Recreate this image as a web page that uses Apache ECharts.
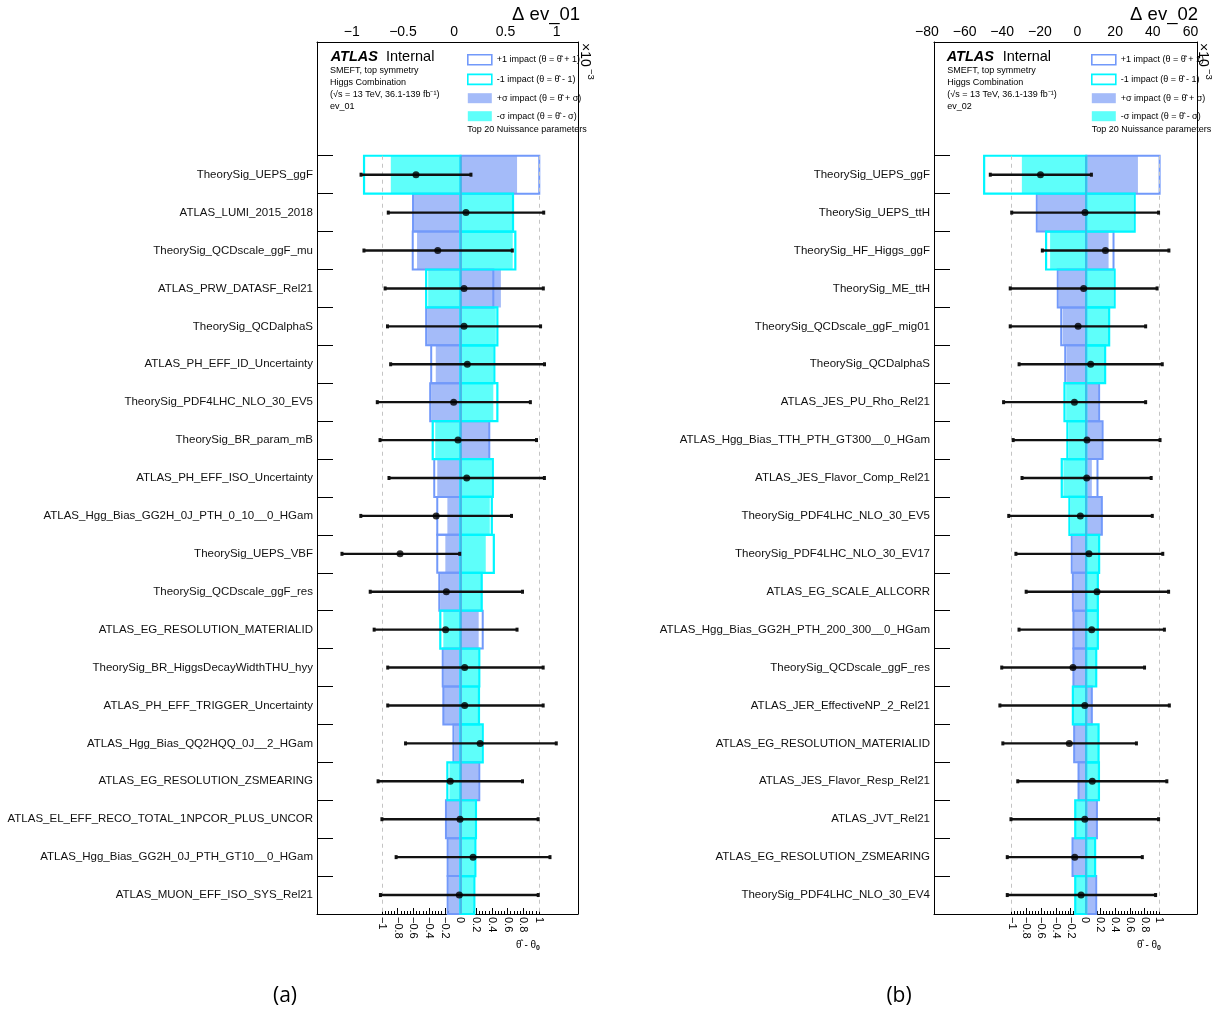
<!DOCTYPE html>
<html><head><meta charset="utf-8">
<script src="https://cdn.jsdelivr.net/npm/echarts@6/dist/echarts.min.js"></script>
<style>html,body{margin:0;padding:0;background:#fff}#c{width:1216px;height:1012px}</style>
</head><body><div id="c"></div><script>
// ---------------- DATA ----------------
const namesA = ['TheorySig_UEPS_ggF','ATLAS_LUMI_2015_2018','TheorySig_QCDscale_ggF_mu','ATLAS_PRW_DATASF_Rel21','TheorySig_QCDalphaS','ATLAS_PH_EFF_ID_Uncertainty','TheorySig_PDF4LHC_NLO_30_EV5','TheorySig_BR_param_mB','ATLAS_PH_EFF_ISO_Uncertainty','ATLAS_Hgg_Bias_GG2H_0J_PTH_0_10__0_HGam','TheorySig_UEPS_VBF','TheorySig_QCDscale_ggF_res','ATLAS_EG_RESOLUTION_MATERIALID','TheorySig_BR_HiggsDecayWidthTHU_hyy','ATLAS_PH_EFF_TRIGGER_Uncertainty','ATLAS_Hgg_Bias_QQ2HQQ_0J__2_HGam','ATLAS_EG_RESOLUTION_ZSMEARING','ATLAS_EL_EFF_RECO_TOTAL_1NPCOR_PLUS_UNCOR','ATLAS_Hgg_Bias_GG2H_0J_PTH_GT10__0_HGam','ATLAS_MUON_EFF_ISO_SYS_Rel21'];
// impacts on Δ ev_01, in units of 1e-3
const plus1A    = [0.78,-0.47,-0.473,0.325,-0.34,-0.29,-0.30,0.285,-0.26,-0.23,-0.23,-0.21,0.22,-0.176,-0.17,-0.07,0.186,-0.144,-0.127,-0.127];
const minus1A   = [-0.955,0.52,0.543,-0.34,0.365,0.335,0.365,-0.275,0.32,0.31,0.33,0.21,-0.20,0.186,0.183,0.22,-0.13,0.153,0.147,0.137];
const plusSigA  = [0.56,-0.46,-0.43,0.40,-0.33,-0.245,-0.29,0.29,-0.23,-0.13,-0.15,-0.20,0.18,-0.17,-0.165,-0.06,0.18,-0.14,-0.12,-0.12];
const minusSigA = [-0.69,0.51,0.517,-0.32,0.35,0.325,0.325,-0.25,0.31,0.29,0.25,0.205,-0.17,0.18,0.178,0.21,-0.11,0.143,0.14,0.13];
// pulls (theta_hat - theta_0) and their errors
const pullA  = [-0.567,0.07,-0.29,0.045,0.045,0.087,-0.087,-0.032,0.079,-0.31,-0.77,-0.18,-0.19,0.053,0.053,0.25,-0.13,-0.006,0.16,-0.015];
const errDnA = [0.70,0.99,0.94,1.005,0.975,0.977,0.973,0.993,0.99,0.96,0.74,0.97,0.91,0.98,0.98,0.95,0.92,0.995,0.98,1.005];
const errUpA = [0.70,0.99,0.95,1.01,0.975,0.983,0.977,1.0,0.99,0.96,0.76,0.97,0.91,1.0,1.0,0.97,0.92,0.995,0.98,1.005];

const namesB = ['TheorySig_UEPS_ggF','TheorySig_UEPS_ttH','TheorySig_HF_Higgs_ggF','TheorySig_ME_ttH','TheorySig_QCDscale_ggF_mig01','TheorySig_QCDalphaS','ATLAS_JES_PU_Rho_Rel21','ATLAS_Hgg_Bias_TTH_PTH_GT300__0_HGam','ATLAS_JES_Flavor_Comp_Rel21','TheorySig_PDF4LHC_NLO_30_EV5','TheorySig_PDF4LHC_NLO_30_EV17','ATLAS_EG_SCALE_ALLCORR','ATLAS_Hgg_Bias_GG2H_PTH_200_300__0_HGam','TheorySig_QCDscale_ggF_res','ATLAS_JER_EffectiveNP_2_Rel21','ATLAS_EG_RESOLUTION_MATERIALID','ATLAS_JES_Flavor_Resp_Rel21','ATLAS_JVT_Rel21','ATLAS_EG_RESOLUTION_ZSMEARING','TheorySig_PDF4LHC_NLO_30_EV4'];
// impacts on Δ ev_02, in units of 1e-3
const plus1B    = [40.3,-27.1,15.0,-15.6,-13.7,-11.5,7.1,9.0,6.2,8.6,-7.9,-7.3,-7.0,-7.0,3.1,-6.6,-4.2,5.9,-7.5,5.5];
const minus1B   = [-56.0,26.6,-22.0,15.6,12.6,10.4,-11.9,-10.3,-13.4,-9.2,7.1,6.4,6.4,5.5,-7.3,6.8,7.0,-6.0,4.9,-6.0];
const plusSigB  = [28.4,-26.5,12.3,-15.0,-12.9,-10.8,6.8,8.6,3.1,8.2,-7.3,-7.0,-6.7,-6.7,2.9,-6.3,-4.0,5.6,-7.2,5.2];
const minusSigB = [-35.3,26.0,-19.8,15.0,12.2,9.9,-11.0,-9.5,-12.5,-8.5,6.8,6.1,6.1,5.2,-6.8,6.5,6.7,-5.6,4.6,-5.6];
const pullB  = [-0.61,-0.007,0.27,-0.025,-0.10,0.07,-0.15,0.02,0.016,-0.07,0.047,0.156,0.084,-0.17,-0.01,-0.22,0.092,-0.01,-0.146,-0.06];
const errDnB = [0.68,0.993,0.855,0.995,0.92,0.97,0.96,1.0,0.876,0.97,0.99,0.96,0.985,0.965,1.15,0.90,1.01,1.0,0.914,1.0];
const errUpB = [0.69,0.997,0.86,0.995,0.915,0.97,0.965,0.99,0.874,0.975,1.0,0.97,0.985,0.97,1.146,0.91,1.01,1.0,0.916,1.01];

// tick labels
const pullTicks = [-1,-0.8,-0.6,-0.4,-0.2,0,0.2,0.4,0.6,0.8,1];
const topTicksA = [-1,-0.5,0,0.5,1];
const topTicksB = [-80,-60,-40,-20,0,20,40,60];

// ---------------- STYLE / LAYOUT ----------------
const FONT = '"Liberation Sans", Arial, Helvetica, sans-serif';
const HEAD = 3;           // empty header rows inside the frame
const NROW = 20;
const L_P1 = '+1 impact (θ = θ̂ + 1)';
const L_M1 = '-1 impact (θ = θ̂ - 1)';
const L_PS = '+σ impact (θ = θ̂ + σ)';
const L_MS = '-σ impact (θ = θ̂ - σ)';
const C_BL = '#7299fa', C_BF = '#a4bbf9', C_CL = '#00f6ff', C_CF = '#5efffa';

const rowBounds = []; for (let k = HEAD; k < HEAD + NROW; k++) rowBounds.push(k);
const rowCenters = []; for (let k = 0; k < NROW; k++) rowCenters.push(HEAD + k + 0.5);
const minorTicks = []; for (let k = -25; k <= 25; k++) minorTicks.push(Math.round(k * 4) / 100);
const fmtNum = v => (v < 0 ? '\u2212' : '') + Math.abs(+v.toFixed(4));

const panels = [
  { names: namesA, p1: plus1A, m1: minus1A, ps: plusSigA, ms: minusSigA, pull: pullA, dn: errDnA, up: errUpA,
    grid: {left: 317, top: 42, width: 261, height: 872},
    pullRange: [-1.828, 1.4968], barRange: [-1.4208, 1.1634],
    labGrid: {left: 287, width: 323}, labRange: [-1.6312, 1.52], topTicks: topTicksA },
  { names: namesB, p1: plus1B, m1: minus1B, ps: plusSigB, ms: minusSigB, pull: pullB, dn: errDnB, up: errUpB,
    grid: {left: 934, top: 42, width: 263, height: 872},
    pullRange: [-2.0528, 1.5108], barRange: [-83.52, 60.82],
    labGrid: {left: 900, width: 314}, labRange: [-94.32, 72.53], topTicks: topTicksB }
];

function rectRender(fill, stroke, lw) {
  return function (params, api) {
    const v = api.value(0), r = api.value(1);
    const a = api.coord([0, r + HEAD]);
    const b = api.coord([v, r + HEAD + 1]);
    return { type: 'rect',
      shape: { x: Math.min(a[0], b[0]), y: a[1], width: Math.abs(b[0] - a[0]), height: b[1] - a[1] },
      style: stroke ? { fill: 'none', stroke: stroke, lineWidth: lw } : { fill: fill } };
  };
}
function errRender(params, api) {
  const r = api.value(2) + HEAD + 0.5;
  const p1 = api.coord([api.value(0), r]), p2 = api.coord([api.value(1), r]);
  return { type: 'group', children: [
    { type: 'line', shape: { x1: p1[0], y1: p1[1], x2: p2[0], y2: p2[1] }, style: { stroke: '#111', lineWidth: 2.4 } },
    { type: 'rect', shape: { x: p1[0] - 1.5, y: p1[1] - 2, width: 3, height: 4 }, style: { fill: '#111' } },
    { type: 'rect', shape: { x: p2[0] - 1.5, y: p2[1] - 2, width: 3, height: 4 }, style: { fill: '#111' } }
  ]};
}

const grids = [], xAxes = [], yAxes = [], series = [];
panels.forEach((P, p) => {
  const gMain = grids.length;
  grids.push({ left: P.grid.left, top: P.grid.top, width: P.grid.width, height: P.grid.height, containLabel: false });
  const gLab = grids.length;
  grids.push({ left: P.labGrid.left, top: 42, width: P.labGrid.width, height: 10, containLabel: false });

  const xPull = xAxes.length;
  xAxes.push({ type: 'value', gridIndex: gMain, position: 'bottom', min: P.pullRange[0], max: P.pullRange[1],
    axisLine: { show: true, onZero: false, lineStyle: { color: '#000', width: 1 } },
    axisTick: { show: true, inside: true, length: 6, customValues: pullTicks, lineStyle: { color: '#000' } },
    axisLabel: { show: true, customValues: pullTicks, rotate: -90, margin: 3, fontSize: 11, fontFamily: FONT, color: '#000', formatter: fmtNum },
    splitLine: { show: false } });
  xAxes.push({ type: 'value', gridIndex: gMain, position: 'bottom', min: P.pullRange[0], max: P.pullRange[1],
    axisLine: { show: false, onZero: false },
    axisTick: { show: true, inside: true, length: 3, customValues: minorTicks, lineStyle: { color: '#000' } },
    axisLabel: { show: false }, splitLine: { show: false } });
  const xBar = xAxes.length;
  xAxes.push({ type: 'value', gridIndex: gMain, position: 'top', min: P.barRange[0], max: P.barRange[1],
    axisLine: { show: true, onZero: false, lineStyle: { color: '#000', width: 1 } },
    axisTick: { show: false }, axisLabel: { show: false }, splitLine: { show: false } });
  xAxes.push({ type: 'value', gridIndex: gLab, position: 'top', min: P.labRange[0], max: P.labRange[1],
    axisLine: { show: false, onZero: false }, axisTick: { show: false }, splitLine: { show: false },
    axisLabel: { show: true, customValues: P.topTicks, margin: 3, fontSize: 14, fontFamily: FONT, color: '#000', formatter: fmtNum } });

  const yRow = yAxes.length;
  yAxes.push({ type: 'value', gridIndex: gMain, position: 'left', min: 0, max: HEAD + NROW, inverse: true,
    axisLine: { show: true, onZero: false, lineStyle: { color: '#000', width: 1 } },
    axisTick: { show: true, inside: true, length: 16, customValues: rowBounds, lineStyle: { color: '#000' } },
    axisLabel: { show: true, customValues: rowCenters, margin: 4, fontSize: 11.5, fontFamily: FONT, color: '#111',
      formatter: v => P.names[Math.round(v - HEAD - 0.5)] },
    splitLine: { show: false } });
  yAxes.push({ type: 'value', gridIndex: gMain, position: 'right', min: 0, max: HEAD + NROW, inverse: true,
    axisLine: { show: true, onZero: false, lineStyle: { color: '#000', width: 1 } },
    axisTick: { show: false }, axisLabel: { show: false }, splitLine: { show: false } });
  yAxes.push({ type: 'value', gridIndex: gLab, show: false, min: 0, max: 1 });

  // dashed guides at pull = ±1
  series.push({ type: 'scatter', xAxisIndex: xPull, yAxisIndex: yRow, data: [], z: 1, silent: true,
    markLine: { silent: true, symbol: ['none', 'none'], label: { show: false },
      lineStyle: { color: '#c4c4c4', type: [4, 4], width: 1 },
      data: [[{ coord: [-1, HEAD] }, { coord: [-1, HEAD + NROW] }], [{ coord: [1, HEAD] }, { coord: [1, HEAD + NROW] }]] } });
  // impact fills
  series.push({ name: L_PS, type: 'custom', xAxisIndex: xBar, yAxisIndex: yRow, z: 2, silent: true,
    itemStyle: { color: C_BF }, renderItem: rectRender(C_BF), data: P.ps.map((v, i) => [v, i]) });
  series.push({ name: L_MS, type: 'custom', xAxisIndex: xBar, yAxisIndex: yRow, z: 2, silent: true,
    itemStyle: { color: C_CF }, renderItem: rectRender(C_CF), data: P.ms.map((v, i) => [v, i]) });
  // impact outlines
  series.push({ name: L_P1, type: 'custom', xAxisIndex: xBar, yAxisIndex: yRow, z: 3, silent: true,
    itemStyle: { color: C_BL }, renderItem: rectRender(null, C_BL, 2), data: P.p1.map((v, i) => [v, i]) });
  series.push({ name: L_M1, type: 'custom', xAxisIndex: xBar, yAxisIndex: yRow, z: 3, silent: true,
    itemStyle: { color: C_CL }, renderItem: rectRender(null, C_CL, 2.2), data: P.m1.map((v, i) => [v, i]) });
  // zero line
  series.push({ type: 'scatter', xAxisIndex: xBar, yAxisIndex: yRow, data: [], z: 4, silent: true,
    markLine: { silent: true, symbol: ['none', 'none'], label: { show: false },
      lineStyle: { color: 'rgba(120,130,210,0.45)', type: 'solid', width: 2 },
      data: [[{ coord: [0, HEAD] }, { coord: [0, HEAD + NROW] }]] } });
  // pulls
  series.push({ type: 'custom', xAxisIndex: xPull, yAxisIndex: yRow, z: 5, silent: true,
    encode: { x: [0, 1], y: 2 }, renderItem: errRender,
    data: P.pull.map((v, i) => [v - P.dn[i], v + P.up[i], i]) });
  series.push({ type: 'scatter', xAxisIndex: xPull, yAxisIndex: yRow, z: 6, silent: true,
    symbol: 'circle', symbolSize: 7, itemStyle: { color: '#000' },
    data: P.pull.map((v, i) => [v, i + HEAD + 0.5]) });
});

function legendFor(left) {
  return { left: left, top: 54, orient: 'vertical', padding: 0, itemWidth: 24, itemHeight: 10, itemGap: 8,
    selectedMode: false, icon: 'rect', textStyle: { fontSize: 9, fontFamily: FONT, color: '#000' },
    data: [
      { name: L_P1, itemStyle: { color: '#fff', borderColor: C_BL, borderWidth: 1.6 } },
      { name: L_M1, itemStyle: { color: '#fff', borderColor: C_CL, borderWidth: 1.6 } },
      { name: L_PS, itemStyle: { color: C_BF, borderWidth: 0 } },
      { name: L_MS, itemStyle: { color: C_CF, borderWidth: 0 } }
    ] };
}

function txt(x, y, text, font, align, extra) {
  return Object.assign({ type: 'text', x: x, y: y, silent: true,
    style: { text: text, font: font, fill: '#000', textAlign: align || 'left', textVerticalAlign: 'middle' } }, extra || {});
}
const graphics = [];
[
  { atlas: 330.7, internal: 386, info: 330, top20: 467.3, delta: 580, dtext: 'Δ ev_01', ev: 'ev_01', tx: 585, axT: 540, lab: 285, labT: '(a)' },
  { atlas: 946.7, internal: 1002.7, info: 947.3, top20: 1091.7, delta: 1198, dtext: 'Δ ev_02', ev: 'ev_02', tx: 1203, axT: 1161, lab: 899, labT: '(b)' }
].forEach(h => {
  graphics.push(txt(h.atlas, 57, 'ATLAS', 'italic bold 14.5px ' + FONT));
  graphics.push(txt(h.internal, 57, 'Internal', '14.5px ' + FONT));
  graphics.push(txt(h.info, 71, 'SMEFT, top symmetry', '9px ' + FONT));
  graphics.push(txt(h.info, 82.5, 'Higgs Combination', '9px ' + FONT));
  graphics.push(txt(h.info, 94.3, '(√s = 13 TeV, 36.1-139 fb⁻¹)', '9px ' + FONT));
  graphics.push(txt(h.info, 106.5, h.ev, '9px ' + FONT));
  graphics.push(txt(h.top20, 130, 'Top 20 Nuissance parameters', '9px ' + FONT));
  graphics.push(txt(h.delta, 15, h.dtext, '18.5px ' + FONT, 'right'));
  graphics.push(txt(h.tx, 43, '×10', '14px ' + FONT, 'left', { rotation: -Math.PI / 2 }));
  graphics.push(txt(h.tx + 6, 69, '−3', '9.5px ' + FONT, 'left', { rotation: -Math.PI / 2 }));
  graphics.push({ type: 'text', x: h.axT, y: 945, silent: true,
    style: { text: '{a|θ̂ - θ}{b|0}', textAlign: 'right', textVerticalAlign: 'middle',
      rich: { a: { font: '10px ' + FONT, fill: '#000' }, b: { font: 'bold 7px ' + FONT, fill: '#000', padding: [6, 0, 0, 0] } } } });
  graphics.push(txt(h.lab, 996, h.labT, '21px "Open Sans", ' + FONT, 'center'));
});

const chart = echarts.init(document.getElementById('c'), null, { renderer: 'canvas' });
chart.setOption({
  animation: false,
  backgroundColor: '#fff',
  grid: grids, xAxis: xAxes, yAxis: yAxes, series: series,
  legend: [legendFor(467), legendFor(1091)],
  graphic: graphics
});
</script></body></html>
